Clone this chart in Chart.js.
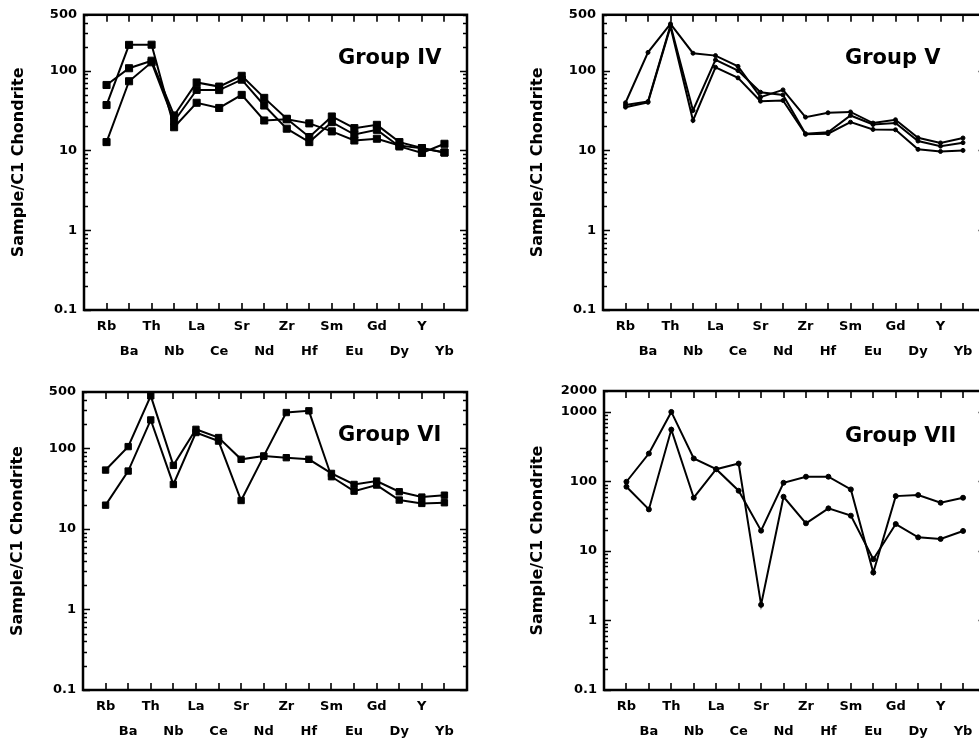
<!DOCTYPE html>
<html>
<head>
<meta charset="utf-8">
<script src="https://cdn.jsdelivr.net/npm/chart.js@4.4.1/dist/chart.umd.min.js"></script>
<style>
  html, body { margin: 0; padding: 0; background: #fff; width: 979px; height: 742px; overflow: hidden; }
  .panel { position: absolute; }
  canvas { display: block; }
</style>
</head>
<body>
<div class="panel" style="left:0;top:0"><canvas id="g4" width="490" height="370"></canvas></div>
<div class="panel" style="left:490px;top:0"><canvas id="g5" width="510" height="370"></canvas></div>
<div class="panel" style="left:0;top:370px"><canvas id="g6" width="490" height="372"></canvas></div>
<div class="panel" style="left:490px;top:370px"><canvas id="g7" width="510" height="372"></canvas></div>
<script>
// Element order along the spider-diagram axis
const elements = ['Rb', 'Ba', 'Th', 'Nb', 'La', 'Ce', 'Sr', 'Nd', 'Zr', 'Hf', 'Sm', 'Eu', 'Gd', 'Dy', 'Y', 'Yb'];

// Labelled y ticks (chondrite-normalised)
const yTicks500 = [500, 100, 10, 1, 0.1];
const yTicks2000 = [2000, 1000, 100, 10, 1, 0.1];

// Group IV samples
const groupIV_1 = [37, 210, 211, 19.5, 39.5, 34, 49.6, 23.7, 24.5, 21.8, 17.3, 13.3, 14, 11.5, 10.6, 9.4];
const groupIV_2 = [66, 107, 133, 27.4, 71, 63, 86, 45.5, 24.9, 14.7, 26.6, 19, 20.9, 12.7, 10.7, 9.4];
const groupIV_3 = [12.7, 73.5, 127, 23.2, 57.3, 57, 77, 36.5, 18.7, 12.7, 22.6, 15.8, 18.1, 11.2, 9.3, 12.1];

// Group V samples
const groupV_1 = [39.5, 169, 385, 165, 154, 113, 46.4, 57.3, 26.1, 29.6, 30.3, 22, 24.2, 14.4, 12.4, 14.3];
const groupV_2 = [37, 41, 370, 31.6, 136, 100, 53.6, 49.6, 16.2, 16.9, 27.4, 21.1, 22, 13.1, 11.3, 12.5];
const groupV_3 = [34.8, 40, 355, 23.7, 110, 81, 41.4, 42.2, 15.9, 16.2, 22.6, 18.3, 18.1, 10.3, 9.7, 10];

// Group VI samples
const groupVI_1 = [53.7, 105, 448, 61.4, 172, 136, 73, 80, 76.5, 73, 48.8, 35.6, 39.2, 28.9, 24.8, 26.2];
const groupVI_2 = [19.7, 52.2, 225, 35.6, 157, 123, 22.5, 80, 278, 292, 44.4, 29.4, 35, 22.8, 20.7, 21.1];

// Group VII samples
const groupVII_1 = [99, 252, 1000, 214, 150, 73.5, 19.6, 95.7, 117, 117, 76.8, 4.9, 61.5, 63.7, 49.4, 58.3];
const groupVII_2 = [84, 39.6, 557, 58.3, 150, 181, 1.68, 60.2, 25, 41, 32.2, 7.6, 24.4, 15.7, 14.9, 19.4];

const FONT = '"DejaVu Sans", "Liberation Sans", Arial, sans-serif';
Chart.defaults.font.family = FONT;
Chart.defaults.font.weight = 'bold';
Chart.defaults.color = '#000';
Chart.defaults.animation = false;

// Boxed frame with inward ticks on all four sides, plus the group caption
const panelFrame = {
  id: 'panelFrame',
  afterDraw(chart, args, opts) {
    const { ctx, chartArea: a, scales: { x, y } } = chart;
    ctx.save();
    ctx.strokeStyle = '#000';
    ctx.lineWidth = 1.6;
    ctx.beginPath();
    x.ticks.forEach(t => {
      const px = Math.round(x.getPixelForValue(t.value));
      ctx.moveTo(px, a.bottom); ctx.lineTo(px, a.bottom - 7);
      ctx.moveTo(px, a.top); ctx.lineTo(px, a.top + 7);
    });
    for (let e = -1; e <= 3; e++) {
      for (let m = 1; m <= 9; m++) {
        const v = m * Math.pow(10, e);
        if (v < y.min * 0.999 || v > y.max * 1.001) continue;
        const py = Math.round(y.getPixelForValue(v)) + 0.5;
        const len = m === 1 ? 7 : 4;
        ctx.moveTo(a.left, py); ctx.lineTo(a.left + len, py);
        ctx.moveTo(a.right, py); ctx.lineTo(a.right - len, py);
      }
    }
    ctx.stroke();
    ctx.lineWidth = 2.5;
    ctx.strokeRect(a.left, a.top, a.right - a.left, a.bottom - a.top);
    ctx.fillStyle = '#000';
    ctx.font = 'bold 21px ' + FONT;
    ctx.textAlign = 'left';
    ctx.textBaseline = 'alphabetic';
    ctx.fillText(opts.text, a.left + opts.dx, a.top + opts.dy);
    ctx.restore();
  }
};

function drawPanel(id, series, cfg) {
  const canvas = document.getElementById(id);
  const W = canvas.width, H = canvas.height;
  const area = cfg.area;
  return new Chart(canvas, {
    type: 'line',
    data: {
      datasets: series.map(vals => ({
        data: vals.map((v, i) => ({ x: i, y: v })),
        borderColor: '#000',
        backgroundColor: '#000',
        borderWidth: 2,
        pointStyle: cfg.marker,
        pointRadius: cfg.markerRadius,
        pointBorderWidth: 1,
        pointBackgroundColor: '#000',
        pointBorderColor: '#000',
        tension: 0
      }))
    },
    options: {
      responsive: false,
      devicePixelRatio: 1,
      layout: { padding: { left: 0, top: area.top, right: W - area.right, bottom: 0 } },
      plugins: {
        legend: { display: false },
        tooltip: { enabled: false },
        panelFrame: cfg.caption
      },
      scales: {
        x: {
          type: 'linear',
          min: -1,
          max: elements.length,
          afterBuildTicks: s => { s.ticks = elements.map((_, i) => ({ value: i })); },
          afterFit: s => { s.height = H - area.bottom; },
          grid: { display: false, drawTicks: false },
          border: { display: false },
          ticks: {
            autoSkip: false,
            maxRotation: 0,
            padding: 4,
            font: { size: 13, weight: 'bold', lineHeight: 25 / 13 },
            color: '#000',
            callback: v => {
              const i = Math.round(v);
              const name = elements[i];
              return i % 2 === 0 ? [name, ''] : ['', name];
            }
          }
        },
        y: {
          type: 'logarithmic',
          min: 0.1,
          max: cfg.yTicks[0],
          afterBuildTicks: s => { s.ticks = cfg.yTicks.map(v => ({ value: v })); },
          afterFit: s => { s.width = area.left; },
          grid: { display: false, drawTicks: false },
          border: { display: false },
          ticks: {
            padding: 7,
            font: { size: 13, weight: 'bold' },
            color: '#000',
            callback: v => String(v)
          },
          title: {
            display: true,
            text: 'Sample/C1 Chondrite',
            color: '#000',
            font: { size: 16, weight: 'bold', lineHeight: 1.2 },
            padding: { top: cfg.titlePad, bottom: 0 }
          }
        }
      }
    },
    plugins: [panelFrame]
  });
}

drawPanel('g4', [groupIV_1, groupIV_2, groupIV_3], {
  area: { left: 84, top: 13, right: 467, bottom: 310 },
  yTicks: yTicks500, marker: 'rect', markerRadius: 5, titlePad: 9,
  caption: { text: 'Group IV', dx: 254, dy: 49 }
});
drawPanel('g5', [groupV_1, groupV_2, groupV_3], {
  area: { left: 113, top: 13, right: 495.5, bottom: 310 },
  yTicks: yTicks500, marker: 'circle', markerRadius: 2, titlePad: 38,
  caption: { text: 'Group V', dx: 242, dy: 49 }
});
drawPanel('g6', [groupVI_1, groupVI_2], {
  area: { left: 83, top: 22, right: 467, bottom: 320 },
  yTicks: yTicks500, marker: 'rect', markerRadius: 4.5, titlePad: 8.5,
  caption: { text: 'Group VI', dx: 255, dy: 49 }
});
drawPanel('g7', [groupVII_1, groupVII_2], {
  area: { left: 114, top: 21, right: 495.5, bottom: 320 },
  yTicks: yTicks2000, marker: 'circle', markerRadius: 2.5, titlePad: 38.5,
  caption: { text: 'Group VII', dx: 241, dy: 51 }
});
</script>
</body>
</html>
